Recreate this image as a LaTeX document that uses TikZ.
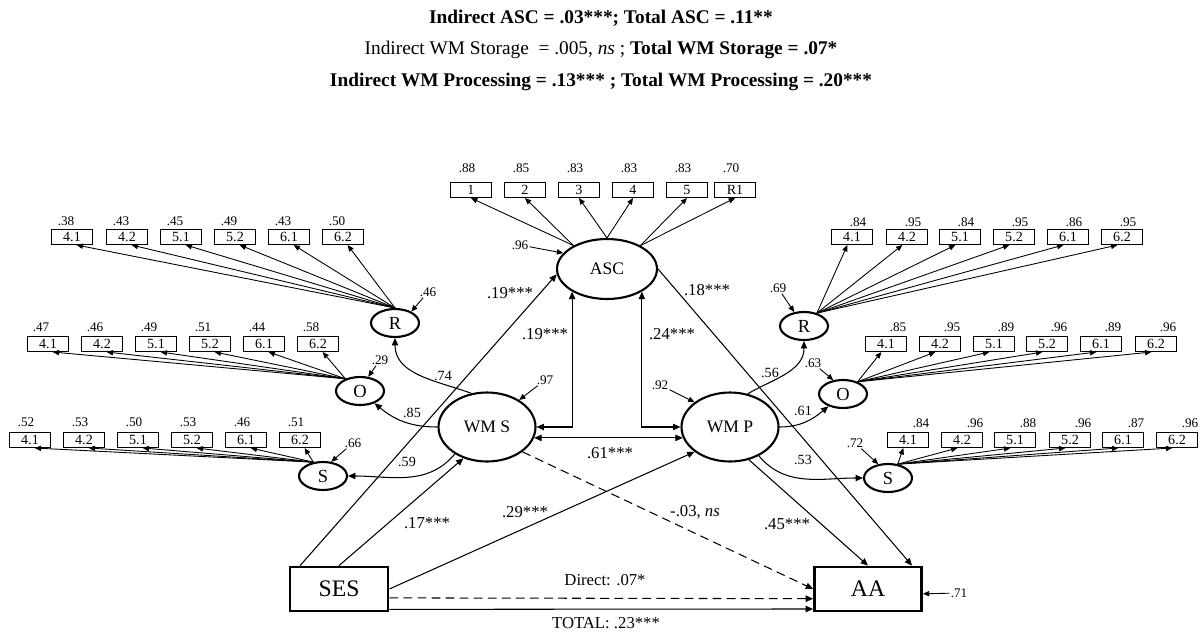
\documentclass[tikz,border=0pt]{standalone}
\usepackage{fontspec}
\setmainfont{Liberation Serif}
\usetikzlibrary{positioning, arrows.meta, shapes.geometric, calc}

\begin{document}
\begin{tikzpicture}[x=0.02cm, y=-0.02cm,
    latent/.style={ellipse, draw, line width=1.2pt, minimum width=0.96cm, minimum height=0.56cm,
        inner sep=0pt, font=\fontsize{10.5}{12}\selectfont},
    bigl/.style={ellipse, draw, line width=1.2pt, minimum width=1.94cm, minimum height=1.38cm,
        inner sep=0pt, font=\fontsize{10}{12}\selectfont},
    obs/.style={rectangle, draw, line width=0.6pt, minimum width=0.82cm, minimum height=0.30cm,
        inner sep=0pt, font=\fontsize{8}{9}\selectfont},
    mvar/.style={rectangle, draw, line width=1.6pt, minimum width=1.96cm, minimum height=0.88cm,
        inner sep=0pt, font=\fontsize{13.5}{15}\selectfont},
    load/.style={inner sep=0.5pt, font=\fontsize{7.5}{8}\selectfont},
    lfac/.style={inner sep=0.5pt, font=\fontsize{8}{9}\selectfont},
    coef/.style={inner sep=0.5pt, font=\fontsize{9.5}{11}\selectfont},
    ttl/.style={inner sep=0pt, font=\fontsize{11}{13}\selectfont},
    arr/.style={-{Triangle[length=4.2pt, width=3.6pt]}, line width=0.6pt},
    sarr/.style={-{Triangle[length=3.6pt, width=3pt]}, line width=0.5pt},
    darr/.style={{Triangle[length=4.2pt, width=3.6pt]}-{Triangle[length=4.2pt, width=3.6pt]}, line width=0.6pt},
    dsh/.style={arr, dash pattern=on 5pt off 3pt},
]
\useasboundingbox (0,0) rectangle (1202,635);

% ===== Effect summary =====
\node[ttl] (t1) at (601,18) {\bfseries Indirect ASC = .03***; Total ASC = .11**};
\node[ttl] (t2) at (601,50) {Indirect WM Storage \ = .005, \textit{ns} ; \textbf{Total WM Storage = .07*}};
\node[ttl] (t3) at (601,82) {\bfseries Indirect WM Processing = .13*** ; Total WM Processing = .20***};

% ===== Latent variables =====
\node[bigl, minimum width=2.0cm, minimum height=1.2cm] (ASC) at (607,269) {ASC};
\node[bigl] (WMS) at (487,427) {WM S};
\node[bigl] (WMP) at (730,427) {WM P};
\node[latent] (Rl) at (395,323) {R};
\node[latent] (Ol) at (360,391) {O};
\node[latent] (Sl) at (323,476) {S};
\node[latent] (Rr) at (804,326) {R};
\node[latent] (Or) at (843,394) {O};
\node[latent] (Sr) at (888,478) {S};

% ===== Observed SES and AA =====
\node[mvar] (SES) at (339,589) {SES};
\node[mvar, minimum width=2.14cm] (AA) at (868,589) {AA};

% ===== ASC indicators =====
\foreach \lab/\x/\val/\an [count=\i] in {1/471/.88/145, 2/525/.85/145, 3/579/.83/90,
    4/633/.83/90, 5/687/.83/35, R1/735/.70/35}
{
  \node[obs] (a\i) at (\x,190) {\lab};
  \node[load] (av\i) at (\x-4,168) {\val};
  \draw[sarr] (ASC.\an) -- (a\i.south);
}

% ===== WM storage indicators =====
\foreach \lab/\x/\val [count=\i] in {4.1/72/.38, 4.2/127/.43, 5.1/181/.45, 5.2/235/.49, 6.1/289/.43, 6.2/343/.50}
{
  \node[obs] (rl\i) at (\x,237) {\lab};
  \node[load] (rlv\i) at (\x-6,221) {\val};
  \draw[sarr] (Rl.north) -- (rl\i.300);
}
\foreach \lab/\x/\val [count=\i] in {4.1/48/.47, 4.2/102/.46, 5.1/156/.49, 5.2/210/.51, 6.1/264/.44, 6.2/318/.58}
{
  \node[obs] (ol\i) at (\x,344) {\lab};
  \node[load] (olv\i) at (\x-7,327) {\val};
  \draw[sarr] (Ol.140) -- (ol\i.300);
}
\foreach \lab/\x/\val [count=\i] in {4.1/30/.52, 4.2/84/.53, 5.1/138/.50, 5.2/192/.53, 6.1/246/.46, 6.2/300/.51}
{
  \node[obs] (sl\i) at (\x,440) {\lab};
  \node[load] (slv\i) at (\x-4,422) {\val};
  \draw[sarr] (Sl.125) -- (sl\i.300);
}

% ===== WM processing indicators =====
\foreach \lab/\x/\val [count=\i] in {4.1/852/.84, 4.2/907/.95, 5.1/960/.84, 5.2/1014/.95, 6.1/1068/.86, 6.2/1122/.95}
{
  \node[obs] (rr\i) at (\x,237) {\lab};
  \node[load] (rrv\i) at (\x+6,222) {\val};
  \draw[sarr] (Rr.45) -- (rr\i.240);
}
\foreach \lab/\x/\val [count=\i] in {4.1/886/.85, 4.2/940/.95, 5.1/994/.89, 5.2/1047/.96, 6.1/1101/.89, 6.2/1156/.96}
{
  \node[obs] (or\i) at (\x,344) {\lab};
  \node[load] (orv\i) at (\x+12,327) {\val};
  \draw[sarr] (Or.40) -- (or\i.240);
}
\foreach \lab/\x/\val [count=\i] in {4.1/908/.84, 4.2/962/.96, 5.1/1015/.88, 5.2/1070/.96, 6.1/1123/.87, 6.2/1177/.96}
{
  \node[obs] (sr\i) at (\x,440) {\lab};
  \node[load] (srv\i) at (\x+13,423) {\val};
  \draw[sarr] (Sr.55) -- (sr\i.240);
}

% ===== Residuals =====
\node[load] (eASC) at (520,245) {.96};
\draw[sarr] (eASC) -- (ASC.160);
\node[load] (eWMS) at (545,380) {.97};
\draw[sarr] (eWMS) -- (WMS.40);
\node[load] (eWMP) at (660,385) {.92};
\draw[sarr] (eWMP) -- (WMP.145);
\node[load] (eRl) at (428,292) {.46};
\draw[sarr] (eRl) -- (Rl.35);
\node[load] (eOl) at (380,360) {.29};
\draw[sarr] (eOl) -- (Ol.60);
\node[load] (eSl) at (353,443) {.66};
\draw[sarr] (eSl) -- (Sl.60);
\node[load] (eRr) at (778,288) {.69};
\draw[sarr] (eRr) -- (Rr.125);
\node[load] (eOr) at (813,363) {.63};
\draw[sarr] (eOr) -- (Or.125);
\node[load] (eSr) at (855,443) {.72};
\draw[sarr] (eSr) -- (Sr.125);
\node[load] (eAA) at (959,593) {.71};
\draw[sarr] (eAA) -- (AA.-5);

% ===== Second-order loadings =====
\draw[arr] (WMS.115) to[out=160, in=-90] (Rl.south);
\draw[arr] (WMS.180) to[out=180, in=-40] (Ol.-40);
\draw[arr] (WMS.-140) to[out=-130, in=0] (Sl.east);
\draw[arr] (WMP.62) to[out=30, in=-90] (Rr.south);
\draw[arr] (WMP.east) to[out=0, in=-140] (Or.-140);
\draw[arr] (WMP.-45) to[out=-50, in=180] (Sr.west);
\node[lfac] (f1) at (443,376) {.74};
\node[lfac] (f2) at (412,413) {.85};
\node[lfac] (f3) at (407,462) {.59};
\node[lfac] (f4) at (770,373) {.56};
\node[lfac] (f5) at (803,411) {.61};
\node[lfac] (f6) at (803,460) {.53};

% ===== Structural paths =====
\draw[arr] (SES.149) -- (ASC.186);
\draw[arr] (SES.north) -- (WMS.233);
\draw[arr] (SES.east) -- (WMP.215);
\draw[dsh] (SES.-10) -- (AA.190);
\draw[arr] (SES.-22) -- (AA.200);
\draw[dsh] (WMS.-35) -- (AA.west);
\draw[arr] (WMP.-60) -- (AA.north);
\draw[arr] (ASC.east) -- (AA.28);
\draw[darr] (WMS.-13) -- (WMP.193);
\draw[darr] (WMS.east) -| (ASC.213);
\draw[darr] (WMP.west) -| (ASC.-33);

\node[coef] (c1) at (510,293) {.19***};
\node[coef] (c2) at (707,290) {.18***};
\node[coef] (c3) at (545,334) {.19***};
\node[coef] (c4) at (672,334) {.24***};
\node[coef] (c5) at (610,453) {.61***};
\node[coef] (c6) at (427,523) {.17***};
\node[coef] (c7) at (525,512) {.29***};
\node[coef] (c8) at (695,512) {-.03, \textit{ns}};
\node[coef] (c9) at (787,524) {.45***};
\node[coef] (c10) at (605,580) {Direct: .07*};
\node[coef] (c11) at (606,623) {TOTAL: .23***};

\end{tikzpicture}
\end{document}
